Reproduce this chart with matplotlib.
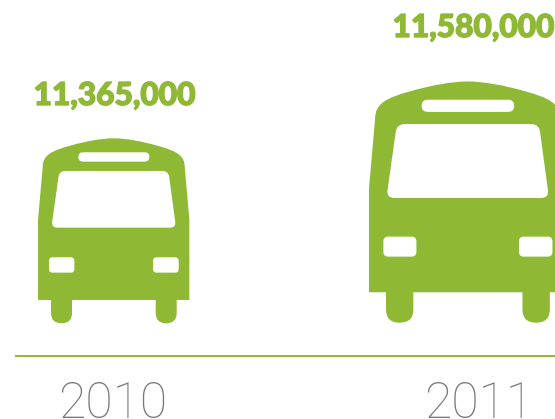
"""Bus pictogram chart: passengers per year, 2010 vs 2011."""
import numpy as np
import matplotlib
matplotlib.use("Agg")
import matplotlib.pyplot as plt
import matplotlib.patheffects as pe
from matplotlib.patches import PathPatch
from matplotlib.path import Path

years = ["2010", "2011"]
values = [11365000, 11580000]

# layout, in pixels of the 555x419 picture
bus_center = [113.7, 467.7]
bus_base = [323.3, 322.7]
bus_scale = [1.0, 1.304]
value_y = [105, 37]
value_x = [114.5, 473.5]
year_x = [112.5, 479]

GREEN = "#8fb935"
GREY = "#77787a"


def rounded_path(points, radii):
    """Closed path through points, corners cut with a quadratic of given radius."""
    pts = np.asarray(points, dtype=float)
    n = len(pts)
    verts, codes = [], []
    for i in range(n):
        p = pts[i]
        prev = pts[i - 1]
        nxt = pts[(i + 1) % n]
        r = radii[i] if np.ndim(radii) else radii
        a = p + (prev - p) / np.linalg.norm(prev - p) * r if r else p
        b = p + (nxt - p) / np.linalg.norm(nxt - p) * r if r else p
        verts.append(a)
        codes.append(Path.MOVETO if i == 0 else Path.LINETO)
        if r:
            verts += [p, b]
            codes += [Path.CURVE3, Path.CURVE3]
    verts.append(verts[0])
    codes.append(Path.CLOSEPOLY)
    return np.array(verts), codes


def rect(x0, x1, y0, y1, r):
    return rounded_path([(x0, y0), (x1, y0), (x1, y1), (x0, y1)], r)


def body_shape():
    # outline with the arched roof, units are 1/3 px of the small bus
    verts = [(-227, 70), (-227, 310), (-213, 470),
             (-213, 505), (-185, 518), (-130, 533),
             (-85, 546), (-35, 555), (0, 555),
             (35, 555), (85, 546), (130, 533),
             (185, 518), (213, 505), (213, 470),
             (227, 310), (227, 70), (-227, 70)]
    codes = [Path.MOVETO, Path.LINETO, Path.LINETO] + [Path.CURVE4] * 12 \
        + [Path.LINETO, Path.LINETO, Path.CLOSEPOLY]
    return np.array(verts, dtype=float), codes


def wheel(x0, x1):
    return rounded_path([(x0, 75), (x1, 75), (x1, 0), (x0, 0)], [0, 0, 31, 31])


def add_shape(ax, shape, cx, base, scale, color):
    verts, codes = shape
    verts = np.asarray(verts, dtype=float)
    xy = np.column_stack([cx + verts[:, 0] * scale / 3.0,
                          base - verts[:, 1] * scale / 3.0])
    ax.add_patch(PathPatch(Path(xy, codes), facecolor=color, edgecolor="none",
                           lw=0, clip_on=True))


def draw_bus(ax, cx, base, scale):
    add_shape(ax, wheel(-188, -125), cx, base, scale, GREEN)
    add_shape(ax, wheel(126, 189), cx, base, scale, GREEN)
    add_shape(ax, body_shape(), cx, base, scale, GREEN)
    # windscreen
    screen = rounded_path([(-187, 287), (187, 287), (164, 457), (-163, 457)], 18)
    add_shape(ax, screen, cx, base, scale, "white")
    add_shape(ax, rect(-106, 107, 485, 513, 14), cx, base, scale, "white")
    add_shape(ax, rect(-194, -118, 152, 198, 11), cx, base, scale, "white")
    add_shape(ax, rect(118, 195, 152, 198, 11), cx, base, scale, "white")


fig = plt.figure(figsize=(5.55, 4.19), dpi=100)
ax = fig.add_axes([0, 0, 1, 1])
ax.set_xlim(0, 555)
ax.set_ylim(419, 0)
ax.axis("off")

for i, year in enumerate(years):
    draw_bus(ax, bus_center[i], bus_base[i], bus_scale[i])
    t = ax.text(value_x[i], value_y[i], f"{values[i]:,}", color=GREEN, fontsize=22.8,
                family="Lato", weight="black", ha="center", va="baseline")
    t.set_path_effects([pe.withStroke(linewidth=1.0, foreground=GREEN)])
    ax.text(year_x[i], 418, year, color=GREY, fontsize=36, family="Roboto",
            weight="light", ha="center", va="baseline", clip_on=True)

ax.plot([15, 555], [356, 356], color=GREEN, lw=1.4, solid_capstyle="butt")

fig.savefig("out.png", dpi=100)
